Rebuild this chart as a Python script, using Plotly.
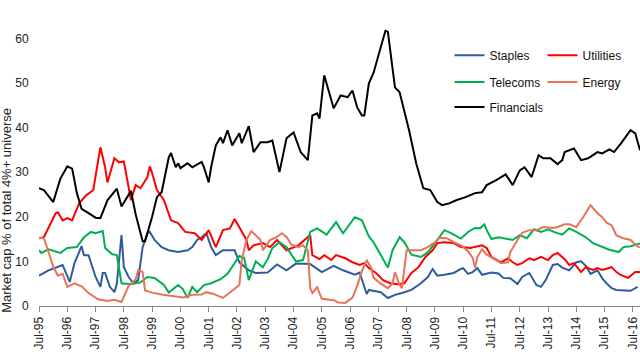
import pandas as pd
import plotly.graph_objects as go

# months after Jul-1995, and values (% of total market cap)
fin_m = [0,2,6,9,12,14,16,18,21,24,26,29,33,35,39,41,44,45,48,50,52,55,56,58,59,60,63,65,69,70,72,73,75,77,78,80,82,85,86,89,91,94,97,99,102,105,108,111,114,116,118,119,121,125,128,131,133,135,137,138,140,142,145,147,148,151,153,157,160,163,166,169,171,174,177,181,185,188,190,194,198,200,201,204,206,209,212,214,217,220,222,223,227,230,233,237,239,242,244,247,251,253,255]
fin_v = [26.4,26.0,23.3,28.5,31.3,30.8,25.3,21.8,20.8,19.8,19.7,23.7,26.3,22.3,25.8,20.5,14.5,14.5,20.0,24.4,25.5,33.3,34.3,31.1,32.0,30.9,32.0,31.1,32.3,31.1,27.7,31.1,36.0,37.8,36.5,39.4,36.0,38.7,36.5,40.3,34.5,36.7,36.7,37.1,30.0,37.6,38.9,34.5,32.7,42.7,43.2,42.0,51.7,44.3,47.2,46.8,48.3,44.5,42.7,42.7,49.9,52.3,58.0,61.7,61.5,49.0,47.9,39.4,32.0,26.4,26.0,23.3,22.6,23.0,23.7,24.4,25.3,25.5,27.1,28.2,29.5,27.7,27.1,30.4,31.1,28.9,33.8,33.1,33.1,31.8,32.7,34.5,35.3,32.7,33.1,34.5,34.2,35.1,34.5,36.5,39.4,38.7,34.9]

util_m = [0,2,7,8,10,12,14,17,20,23,26,28,29,31,32,34,36,38,39,41,43,46,47,48,50,53,56,59,62,66,69,72,75,78,81,83,85,88,89,91,95,98,101,105,110,115,116,119,121,124,126,130,133,136,138,140,143,146,149,152,155,158,161,164,167,169,172,176,179,183,188,190,192,194,196,199,201,203,205,208,210,213,216,218,220,223,225,227,230,232,235,237,239,243,245,247,250,253,255]
util_v = [15.2,15.4,20.8,21.0,19.2,19.7,19.2,23.0,24.8,26.0,35.6,31.1,27.7,31.1,33.1,32.2,32.4,26.6,23.7,27.1,26.4,28.9,31.3,29.8,26.0,23.7,19.2,18.6,16.6,16.3,14.8,17.0,13.2,17.0,17.4,19.5,17.7,14.8,12.5,13.6,14.1,13.2,14.8,12.5,13.6,15.9,11.4,10.5,11.4,10.3,11.4,10.7,9.8,9.2,9.6,8.5,7.4,5.8,5.1,4.9,5.1,7.4,8.7,11.0,12.5,14.1,14.3,14.1,13.2,13.0,13.6,13.0,11.0,10.3,9.8,10.7,9.8,9.2,9.6,10.7,10.3,11.0,10.3,11.4,11.9,10.5,9.2,9.6,7.6,8.7,8.1,8.5,8.1,8.7,7.6,6.9,6.3,7.6,7.6]

stap_m = [0,4,10,13,15,17,18,19,21,24,26,27,28,30,32,33,35,36,38,40,42,44,46,47,49,52,55,59,63,65,67,69,71,73,75,78,81,83,85,88,89,92,95,97,101,105,109,113,115,120,125,129,134,136,139,140,145,148,151,154,158,162,165,167,169,172,176,179,180,182,184,186,188,192,195,197,200,203,205,208,211,213,215,218,220,222,225,228,230,232,234,237,239,241,243,245,248,251,254]
stap_v = [6.8,8.0,9.2,5.4,9.6,12.0,13.4,11.4,11.4,6.5,4.3,7.4,7.4,4.3,3.1,5.0,15.9,8.7,6.5,5.1,5.8,13.2,16.3,16.6,14.8,13.2,12.5,12.1,12.5,13.2,14.8,15.4,16.3,13.2,11.4,12.5,12.5,12.5,9.8,8.5,8.0,7.4,7.5,7.5,9.3,8.0,9.5,9.5,9.4,7.6,9.0,8.0,7.0,7.5,2.7,3.6,3.1,1.8,2.5,2.9,3.6,5.1,6.5,8.3,6.8,7.0,7.4,8.3,8.5,7.2,7.6,8.5,7.0,7.5,7.3,6.3,6.2,4.9,6.5,7.4,4.7,4.3,5.8,9.2,9.4,8.6,8.0,9.8,10.0,9.0,7.2,8.0,6.2,5.0,4.0,3.6,3.5,3.4,4.3]

tel_m = [0,1,4,9,12,16,19,22,24,27,28,31,33,34,35,39,43,46,49,53,55,59,61,63,65,67,70,73,77,80,82,85,87,89,92,95,97,99,102,105,109,112,115,118,122,126,129,134,137,140,142,145,148,150,153,155,158,162,165,169,172,175,179,182,185,187,189,190,192,195,201,204,207,210,213,216,219,222,225,228,232,235,239,242,246,248,251,255]
tel_v = [12.5,11.9,12.7,11.9,13.0,13.2,15.4,16.6,16.3,16.8,13.0,11.6,11.4,8.7,5.1,4.9,5.3,6.5,6.3,4.7,3.0,4.7,3.8,1.8,4.3,3.1,4.7,5.1,6.0,7.2,8.7,11.2,10.8,5.8,10.0,8.7,10.5,13.0,14.3,13.2,10.0,10.3,16.6,17.4,16.0,18.8,16.3,19.9,19.2,15.6,14.3,11.5,8.6,12.5,15.4,14.3,11.5,11.0,12.0,14.8,17.0,16.3,15.1,16.6,17.5,17.4,18.3,17.0,15.0,15.4,14.8,15.9,15.2,17.2,16.6,17.2,16.5,16.0,17.4,16.6,15.4,14.1,13.2,12.6,12.1,13.2,13.4,14.0]

ener_m = [0,2,4,6,8,10,12,15,18,21,25,29,32,35,38,41,42,44,45,48,52,57,61,65,69,71,74,78,81,84,85,86,88,90,92,94,95,98,101,103,105,107,110,112,114,115,116,118,120,122,125,127,130,133,135,137,139,141,142,145,148,150,151,153,154,156,159,162,165,168,170,173,176,179,182,184,185,186,188,190,194,196,199,200,203,205,208,211,214,218,220,223,225,228,231,234,237,239,241,243,245,248,251,254,255]
ener_v = [15.3,15.2,12.1,8.8,6.8,7.2,4.3,5.1,4.4,2.9,1.5,1.1,1.4,0.9,4.5,6.0,8.0,7.6,3.5,3.0,2.6,2.2,1.9,2.5,2.6,3.1,2.7,1.8,3.1,4.4,4.7,10.3,14.8,16.8,15.9,14.8,12.5,14.8,15.5,16.3,15.5,13.8,13.2,13.6,12.5,4.0,2.9,4.2,1.6,1.5,1.3,0.8,0.7,1.9,4.5,7.8,10.3,8.5,6.3,5.0,4.0,5.1,7.6,4.7,4.0,12.5,12.5,12.5,13.2,14.3,15.3,15.2,14.3,13.6,12.3,10.8,8.6,11.0,12.7,11.5,10.3,9.6,9.8,12.1,14.8,16.4,17.0,17.0,17.7,17.5,17.7,18.3,18.3,17.7,20.0,22.6,20.8,19.9,18.6,18.1,15.8,15.2,14.8,13.3,13.2]

tick_years = list(range(1995, 2017))
tick_labels = [f"Jul-{y % 100:02d}" for y in tick_years]
y_ticks = [0, 10, 20, 30, 40, 50, 60]

base = pd.Timestamp("1995-07-01")
def to_dates(months):
    return [base + pd.DateOffset(months=int(m)) for m in months]

series = [
    ("Staples", stap_m, stap_v, "#2E5C9C", "legend"),
    ("Utilities", util_m, util_v, "#FF0000", "legend"),
    ("Telecoms", tel_m, tel_v, "#00B050", "legend2"),
    ("Energy", ener_m, ener_v, "#E8735A", "legend2"),
    ("Financials", fin_m, fin_v, "#000000", "legend3"),
]

fig = go.Figure()
for name, m, v, col, lg in series:
    assert len(m) == len(v), name
    fig.add_trace(go.Scatter(x=to_dates(m), y=v, mode="lines", name=name,
                             line=dict(color=col, width=2), legend=lg))

font = "Liberation Sans, Arial, sans-serif"
leg_common = dict(orientation="h", xanchor="left", yanchor="top",
                  bgcolor="rgba(0,0,0,0)", font=dict(family=font, size=12, color="#111"),
                  entrywidth=48, itemwidth=30, tracegroupgap=0)
fig.update_layout(
    width=640, height=360,
    margin=dict(l=39, r=0, t=16, b=54),
    paper_bgcolor="white", plot_bgcolor="white",
    font=dict(family=font, size=12, color="#222"),
    legend=dict(x=0.683, y=0.915, **leg_common),
    legend2=dict(x=0.683, y=0.822, **leg_common),
    legend3=dict(x=0.683, y=0.736, **leg_common),
    xaxis=dict(range=["1995-07-01", "2016-10-01"], tickvals=[f"{y}-07-01" for y in tick_years],
               ticktext=tick_labels, tickangle=-90, showgrid=False, zeroline=False,
               showline=True, linecolor="#8a8a8a", linewidth=1, ticks="outside",
               ticklen=5, tickcolor="#8a8a8a", automargin=False,
               tickfont=dict(family=font, size=12, color="#222")),
    yaxis=dict(range=[0, 65], tickvals=y_ticks, showgrid=False, zeroline=False,
               showline=False, ticks="outside", ticklen=7, tickcolor="rgba(0,0,0,0)",
               automargin=False, tickfont=dict(family=font, size=12, color="#222")),
    annotations=[dict(text="Market cap % of total 4%+ universe", textangle=-90,
                      xref="paper", yref="paper", x=-0.054, y=0.33,
                      xanchor="center", yanchor="middle", showarrow=False,
                      font=dict(family=font, size=13, color="#222"))],
)

fig.write_html("out.html", config={"displayModeBar": False},
               post_script="document.body.style.margin='0';")
